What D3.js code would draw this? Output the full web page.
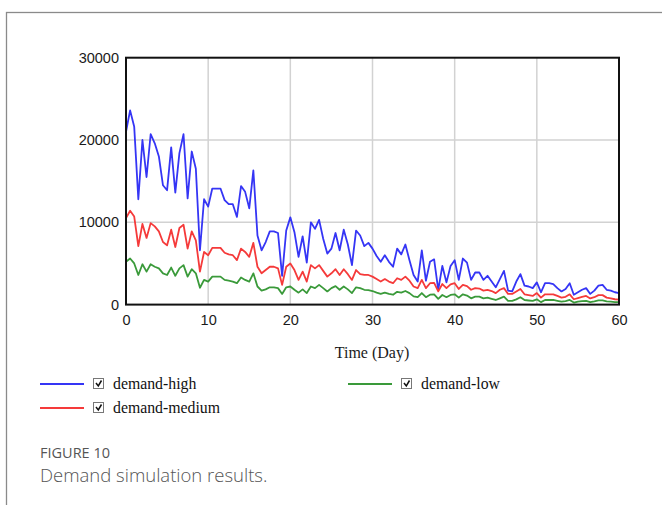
<!DOCTYPE html>
<html><head><meta charset="utf-8">
<script src="https://cdn.jsdelivr.net/npm/d3@7"></script>
<style>
html,body{margin:0;padding:0;background:#fff;}
svg{display:block;}
</style></head>
<body>
<svg id="chart" width="662" height="505"></svg>
<script>
// Time axis: 0..60 days, step 0.5
const days = d3.range(0, 60.5, 0.5);
const xTicks = [0, 10, 20, 30, 40, 50, 60];
const yTicks = [0, 10000, 20000, 30000];

const demandHigh = [
 21000,23600,21600,12800,20000,15500,20700,19600,18000,14500,
 13900,19100,13600,18400,20700,12900,18600,16500,6600,12800,
 11900,14100,14100,14100,12700,12200,12200,10650,14400,13700,
 11700,16300,8400,6600,7600,8900,8900,8700,3500,9000,
 10600,8800,5800,8300,5100,10000,9200,10300,8000,6200,
 6800,8700,6600,9100,7300,4800,9000,8400,7100,7500,
 6800,5900,5200,6000,5200,4600,6800,6100,7300,5400,
 3600,2800,6600,2900,5200,5500,1800,4700,2700,4700,
 5400,3000,5600,5100,3000,3900,3900,3000,3500,2800,
 2100,3100,4100,1700,1600,2800,3700,2300,2200,2000,
 2700,1500,2600,2600,2500,2000,1600,1900,2600,1200,
 1500,1800,2000,1300,1700,2300,2400,1800,1700,1500,
 1400];
const demandMedium = [
 10500,11400,10700,7100,9800,8100,9900,9500,8900,7600,
 7200,9100,7000,9300,9700,6800,8900,7800,4000,6400,
 6000,6900,6900,6900,6300,6100,6000,5400,6800,6400,
 5800,7500,4600,3800,4200,4600,4600,4400,2400,4600,
 5000,4200,3000,4000,2800,4800,4400,4800,4100,3400,
 3800,4300,3600,4300,3700,3000,4200,3700,3600,3600,
 3400,3100,2800,3100,2800,2600,3200,3000,3400,2900,
 2200,2000,3000,2000,2600,2650,1600,2500,2000,2450,
 2600,1900,2400,2250,1800,2000,1950,1700,1800,1650,
 1400,1800,2000,1300,1300,1600,1900,1250,1150,1050,
 1400,850,1250,1250,1250,1050,850,950,1250,650,
 800,950,1050,750,900,1150,1150,850,750,650,
 600];
const demandLow = [
 5200,5600,5000,3600,4900,4000,4900,4600,4400,3800,
 3600,4500,3500,4400,4800,3400,4300,3800,2050,3000,
 2800,3400,3400,3400,3000,2900,2800,2600,3300,3000,
 2800,3800,2200,1700,1850,2100,2100,2000,1300,2100,
 2200,1800,1450,1850,1400,2200,2000,2400,2000,1600,
 2000,2250,1800,2200,1850,1400,2100,2000,1800,1770,
 1650,1450,1300,1450,1300,1200,1550,1450,1650,1400,
 1000,900,1400,900,1200,1250,700,1170,900,1170,
 1250,850,1250,1100,760,960,960,760,840,700,
 560,760,960,450,450,640,900,560,500,450,
 640,300,560,560,560,450,350,420,560,250,
 350,420,450,300,400,520,520,380,350,300,
 300];

const seriesNames = ["demand-high", "demand-medium", "demand-low"];
const seriesColors = ["#3535f5", "#f53a3a", "#3a9a3a"];
const seriesData = [demandHigh, demandMedium, demandLow];

const xLabel = "Time (Day)";
const figLabel = "FIGURE 10";
const figCaption = "Demand simulation results.";

const svg = d3.select("#chart");

// outer frame
svg.append("rect").attr("x", 6.5).attr("y", 12.5).attr("width", 700).attr("height", 520)
  .attr("fill", "none").attr("stroke", "#8a8a8a").attr("stroke-width", 1.3);

const x = d3.scaleLinear().domain([0, 60]).range([126, 619]);
const y = d3.scaleLinear().domain([0, 30000]).range([304.6, 57.7]);

// grid
const g = svg.append("g");
g.selectAll("line.vg").data(xTicks.slice(1, -1)).join("line")
  .attr("x1", d => x(d)).attr("x2", d => x(d)).attr("y1", y(30000)).attr("y2", y(0))
  .attr("stroke", "#d2d2d2").attr("stroke-width", 1.5);
g.selectAll("line.hg").data(yTicks.slice(1, -1)).join("line")
  .attr("x1", x(0)).attr("x2", x(60)).attr("y1", d => y(d)).attr("y2", d => y(d))
  .attr("stroke", "#d2d2d2").attr("stroke-width", 1.5);

// lines
const line = d3.line().x((d, i) => x(days[i])).y(d => y(d));
seriesData.forEach((s, k) => {
  svg.append("path").datum(s).attr("d", line).attr("fill", "none")
    .attr("stroke", seriesColors[k]).attr("stroke-width", 1.8).attr("stroke-linejoin", "round");
});

// border
svg.append("rect").attr("x", x(0)).attr("y", y(30000)).attr("width", x(60) - x(0)).attr("height", y(0) - y(30000))
  .attr("fill", "none").attr("stroke", "#111").attr("stroke-width", 2);

// axes (labels only)
const xAxis = d3.axisBottom(x).tickValues(xTicks).tickSize(0).tickPadding(10).tickFormat(d3.format("d"));
const xa = svg.append("g").attr("transform", `translate(0,${y(0)})`).call(xAxis);
xa.select(".domain").remove();
xa.selectAll("text").attr("font-family", "Arial, 'Liberation Sans', sans-serif").attr("font-size", 14.5).attr("fill", "#1a1a1a");

const yAxis = d3.axisLeft(y).tickValues(yTicks).tickSize(0).tickPadding(7).tickFormat(d3.format("d"));
const ya = svg.append("g").attr("transform", `translate(${x(0)},0)`).call(yAxis);
ya.select(".domain").remove();
ya.selectAll("text").attr("font-family", "Arial, 'Liberation Sans', sans-serif").attr("font-size", 14.5).attr("fill", "#1a1a1a");

// x axis title
svg.append("text").attr("x", 372).attr("y", 358).attr("text-anchor", "middle")
  .attr("font-family", "'Liberation Serif', 'Times New Roman', serif").attr("font-size", 16).attr("fill", "#1a1a1a")
  .text(xLabel);

// legend
const legendPos = [[40, 384], [40, 408], [348, 384]];
seriesNames.forEach((name, k) => {
  const [lx, ly] = legendPos[k];
  const lg = svg.append("g").attr("transform", `translate(${lx},${ly})`);
  lg.append("line").attr("x1", 0).attr("x2", 44).attr("y1", 0).attr("y2", 0)
    .attr("stroke", seriesColors[k]).attr("stroke-width", 2);
  lg.append("rect").attr("x", 53.5).attr("y", -5.5).attr("width", 10).attr("height", 10)
    .attr("fill", "#fff").attr("stroke", "#777").attr("stroke-width", 1);
  lg.append("path").attr("d", "M56,-1 L58.3,2 L61.5,-3.5").attr("fill", "none")
    .attr("stroke", "#111").attr("stroke-width", 1.5);
  lg.append("text").attr("x", 73).attr("y", 5).attr("font-family", "'Liberation Serif', 'Times New Roman', serif")
    .attr("font-size", 15.8).attr("fill", "#111").text(name);
});

// caption
svg.append("text").attr("x", 40).attr("y", 458).attr("font-family", "'Open Sans', 'Noto Sans', sans-serif")
  .attr("font-size", 14.5).attr("fill", "#555").text(figLabel);
svg.append("text").attr("x", 40).attr("y", 482).attr("font-family", "'Open Sans', 'Noto Sans', sans-serif")
  .attr("font-size", 18.5).attr("font-weight", 300).attr("fill", "#555").text(figCaption);
</script>
</body></html>
